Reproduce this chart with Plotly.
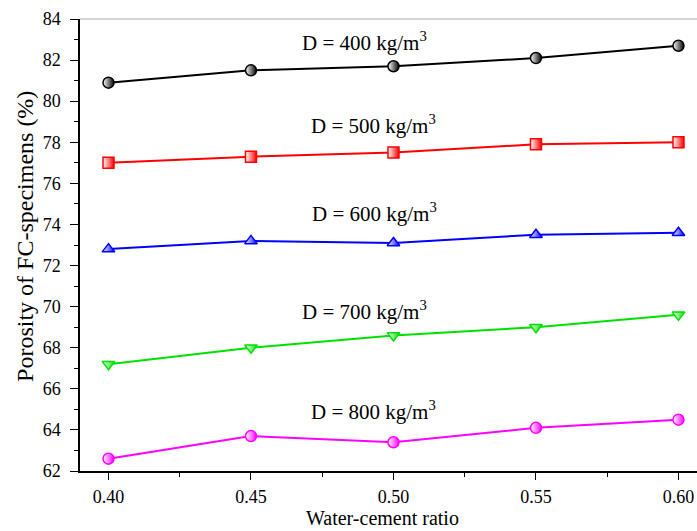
import plotly.graph_objects as go

wc_ratio = [0.40, 0.45, 0.50, 0.55, 0.60]
d400 = [80.9, 81.5, 81.7, 82.1, 82.7]
d500 = [77.0, 77.3, 77.5, 77.9, 78.0]
d600 = [72.8, 73.2, 73.1, 73.5, 73.6]
d700 = [67.2, 68.0, 68.6, 69.0, 69.6]
d800 = [62.6, 63.7, 63.4, 64.1, 64.5]

series = [
    ("D = 400 kg/m<sup>3</sup>", d400, "#000000", "circle", 0.490, 82.9),
    ("D = 500 kg/m<sup>3</sup>", d500, "#ff0000", "square", 0.493, 78.85),
    ("D = 600 kg/m<sup>3</sup>", d600, "#0000ff", "triangle-up", 0.4935, 74.6),
    ("D = 700 kg/m<sup>3</sup>", d700, "#00e000", "triangle-down", 0.490, 69.8),
    ("D = 800 kg/m<sup>3</sup>", d800, "#ff00ff", "circle", 0.493, 64.95),
]

fig = go.Figure()
font_family = "Liberation Serif, Times New Roman, serif"
for name, ys, col, sym, ax, ay in series:
    fig.add_trace(go.Scatter(
        x=wc_ratio, y=ys, mode="lines+markers", name=name,
        line=dict(color=col, width=2),
        marker=dict(symbol=sym, size=11, color="white",
                    gradient=dict(type="horizontal", color=col),
                    line=dict(color=col, width=1.5)),
        showlegend=False,
    ))
    fig.add_annotation(x=ax, y=ay, text=name, showarrow=False,
                       font=dict(family=font_family, size=21, color="black"))

# axis titles
fig.add_annotation(xref="paper", yref="paper", x=0.491, y=-0.105,
                   text="Water-cement ratio", showarrow=False,
                   xanchor="center", yanchor="middle",
                   font=dict(family=font_family, size=20, color="black"))
fig.add_annotation(xref="paper", yref="paper", x=-0.089, y=0.518,
                   text="Porosity of FC-specimens (%)", showarrow=False,
                   textangle=-90, xanchor="center", yanchor="middle",
                   font=dict(family=font_family, size=24, color="black"))

fig.add_shape(type="line", xref="paper", yref="paper", x0=0, x1=1, y0=1, y1=1,
              line=dict(color="#aaaaaa", width=1))

fig.update_layout(
    width=697, height=531,
    margin=dict(l=80, r=0, t=19, b=60),
    paper_bgcolor="white", plot_bgcolor="white",
    font=dict(family=font_family, size=18, color="black"),
)
fig.update_xaxes(
    range=[0.39, 0.6065], tickvals=wc_ratio, ticktext=[f"{v:.2f}" for v in wc_ratio],
    showgrid=False, zeroline=False, showline=True, linecolor="black", linewidth=1.5,
    ticks="outside", ticklen=7, tickwidth=1.2, tickcolor="black",
    ticklabelstandoff=2,
    minor=dict(dtick=0.025, tick0=0.4, ticks="outside", ticklen=4, tickcolor="black"),
)
fig.update_yaxes(
    range=[62, 84], dtick=2, tick0=62,
    showgrid=False, zeroline=False, showline=True, linecolor="black", linewidth=1.5,
    ticks="outside", ticklen=8, tickwidth=1.2, tickcolor="black",
    ticklabelstandoff=6,
    minor=dict(dtick=1, ticks="outside", ticklen=4, tickcolor="black"),
)

fig.write_html(
    "out.html",
    config={"displayModeBar": False},
    post_script="document.body.style.margin='0';document.body.style.overflow='hidden';",
)
